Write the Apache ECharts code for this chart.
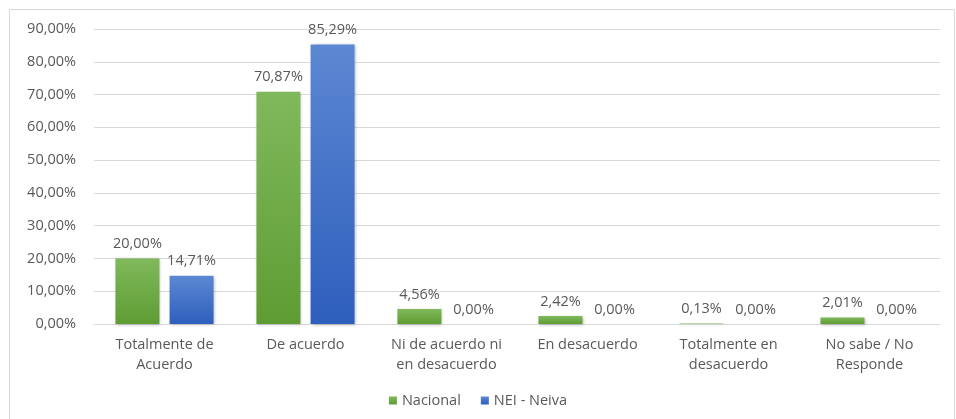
<!DOCTYPE html>
<html>
<head>
<meta charset="utf-8">
<script src="https://cdn.jsdelivr.net/npm/echarts@6/dist/echarts.min.js"></script>
<style>
  html, body { margin: 0; padding: 0; background: #fff; }
  #chart { width: 956px; height: 419px; }
</style>
</head>
<body>
<div id="chart"></div>
<script>
// datos del gráfico
const categories = [
  'Totalmente de\nAcuerdo',
  'De acuerdo',
  'Ni de acuerdo ni\nen desacuerdo',
  'En desacuerdo',
  'Totalmente en\ndesacuerdo',
  'No sabe / No\nResponde'
];
const nacional = [20.00, 70.87, 4.56, 2.42, 0.13, 2.01];
const neiva = [14.71, 85.29, 0.00, 0.00, 0.00, 0.00];
const seriesNames = ['Nacional', 'NEI - Neiva'];

const fmt = v => v.toFixed(2).replace('.', ',') + '%';
const font = '"Open Sans", "Noto Sans", sans-serif';

const chart = echarts.init(document.getElementById('chart'));
const barLabel = {
  show: true,
  position: 'top',
  distance: 7,
  fontSize: 14.5,
  fontFamily: font,
  color: '#595959',
  formatter: p => fmt(p.value)
};
const option = {
  animation: false,
  graphic: [{
    type: 'rect',
    shape: { x: 9.5, y: 9.5, width: 945, height: 420 },
    style: { fill: 'none', stroke: '#d9d9d9', lineWidth: 1 },
    silent: true
  }],
  grid: { left: 94, right: 16, top: 29, bottom: 95 },
  legend: {
    bottom: 6,
    left: 'center',
    itemWidth: 8,
    itemHeight: 8,
    itemGap: 20,
    icon: 'rect',
    textStyle: { fontSize: 14.5, fontFamily: font, color: '#595959' },
    data: seriesNames
  },
  xAxis: {
    type: 'category',
    data: categories,
    axisTick: { show: false },
    axisLine: { lineStyle: { color: '#d9d9d9' } },
    axisLabel: {
      fontSize: 14.5,
      fontFamily: font,
      color: '#595959',
      lineHeight: 20,
      margin: 11,
      interval: 0
    }
  },
  yAxis: {
    type: 'value',
    min: 0,
    max: 90,
    interval: 10,
    axisLine: { show: false },
    axisTick: { show: false },
    axisLabel: {
      fontSize: 14.5,
      fontFamily: font,
      color: '#595959',
      margin: 18,
      formatter: v => fmt(v)
    },
    splitLine: { lineStyle: { color: '#d9d9d9' } }
  },
  series: [
    {
      name: seriesNames[0],
      type: 'bar',
      barWidth: 44,
      barGap: '23%',
      data: nacional,
      label: barLabel,
      itemStyle: {
        color: new echarts.graphic.LinearGradient(0, 0, 0, 1, [
          { offset: 0, color: '#80b95c' },
          { offset: 1, color: '#5e9c33' }
        ]),
        shadowColor: 'rgba(0,0,0,0.25)',
        shadowBlur: 3,
        shadowOffsetX: 1,
        shadowOffsetY: 1
      }
    },
    {
      name: seriesNames[1],
      type: 'bar',
      barWidth: 44,
      data: neiva,
      label: barLabel,
      itemStyle: {
        color: new echarts.graphic.LinearGradient(0, 0, 0, 1, [
          { offset: 0, color: '#5c87d2' },
          { offset: 1, color: '#2e5fbd' }
        ]),
        shadowColor: 'rgba(0,0,0,0.25)',
        shadowBlur: 3,
        shadowOffsetX: 1,
        shadowOffsetY: 1
      }
    }
  ]
};
chart.setOption(option);
</script>
</body>
</html>
